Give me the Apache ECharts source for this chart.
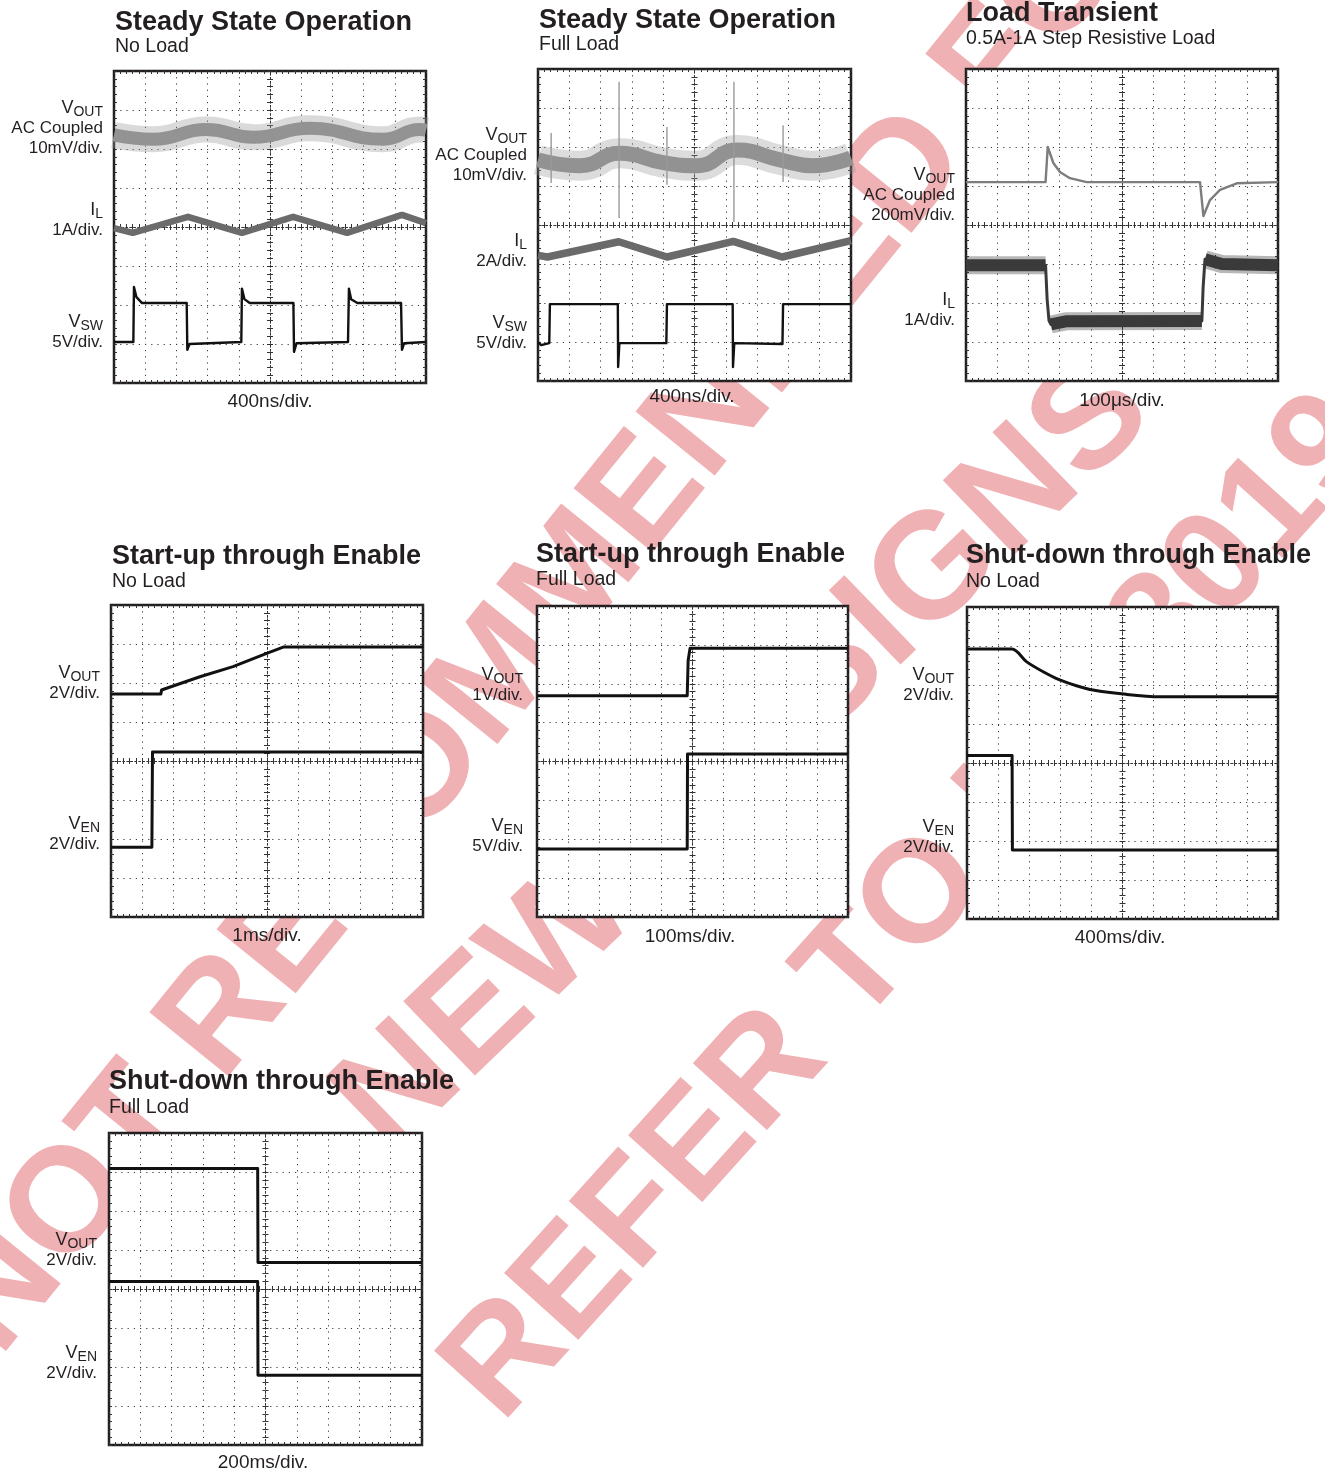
<!DOCTYPE html>
<html>
<head>
<meta charset="utf-8">
<script src="https://cdn.jsdelivr.net/npm/echarts@6.0.0/dist/echarts.min.js"></script>
<style>
html,body{margin:0;padding:0;background:#fff;}
#c{width:1325px;height:1475px;}
</style>
</head>
<body>
<div id="c"></div>
<script>
// ---------------- DATA (x in divisions 0..10, y in divisions 0..8 from bottom) ----------------
const titles = ["Steady State Operation","Steady State Operation","Load Transient","Start-up through Enable","Start-up through Enable","Shut-down through Enable","Shut-down through Enable"];
const subtitles = ["No Load","Full Load","0.5A-1A Step Resistive Load","No Load","Full Load","No Load","Full Load"];
const timebases = ["400ns/div.","400ns/div.","100\u03BCs/div.","1ms/div.","100ms/div.","400ms/div.","200ms/div."];
const chLabels = [
  [["V","OUT","AC Coupled","10mV/div."],["I","L","1A/div."],["V","SW","5V/div."]],
  [["V","OUT","AC Coupled","10mV/div."],["I","L","2A/div."],["V","SW","5V/div."]],
  [["V","OUT","AC Coupled","200mV/div."],["I","L","1A/div."]],
  [["V","OUT","2V/div."],["V","EN","2V/div."]],
  [["V","OUT","1V/div."],["V","EN","5V/div."]],
  [["V","OUT","2V/div."],["V","EN","2V/div."]],
  [["V","OUT","2V/div."],["V","EN","2V/div."]]
];
const watermark = ["NOT RECOMMENDED FOR","NEW DESIGNS","REFER TO ISL8019"];

// Panel 1: steady state, no load
const p1Vout = [[0,6.36],[1.26,6.25],[2.97,6.5],[4.47,6.3],[6.28,6.53],[8.63,6.25],[9.8,6.5],[10,6.48]];
const p1IL = [[0,3.97],[0.6,3.85],[2.37,4.26],[4.1,3.85],[5.74,4.26],[7.47,3.85],[9.23,4.31],[10,4.1]];
const p1Vsw = [[0,1.05],[0.62,1.05],[0.64,2.46],[0.72,2.2],[0.9,2.05],[2.33,2.05],[2.35,0.85],[2.42,1.0],[4.08,1.05],[4.1,2.42],[4.18,2.15],[4.35,2.05],[5.75,2.05],[5.77,0.8],[5.85,1.02],[7.5,1.05],[7.53,2.42],[7.6,2.15],[7.8,2.05],[9.2,2.05],[9.23,0.85],[9.3,1.02],[10,1.05]];
// Panel 2: steady state, full load
const p2Vout = [[0,5.67],[1.34,5.52],[2.62,5.84],[4.0,5.6],[5.08,5.52],[6.36,5.92],[7.73,5.67],[8.79,5.52],[10,5.72]];
const p2Spikes = [[0.42,6.36,5.08],[2.59,7.67,4.18],[4.12,6.51,5.03],[6.26,7.67,4.08],[7.83,6.56,5.1]];
const p2IL = [[0,3.22],[0.3,3.18],[2.58,3.57],[4.12,3.18],[6.24,3.58],[7.8,3.18],[10,3.6]];
const p2Vsw = [[0,1.0],[0.1,0.92],[0.36,0.97],[0.38,1.97],[2.55,1.97],[2.56,0.36],[2.6,0.97],[4.1,0.97],[4.12,1.97],[6.22,1.97],[6.23,0.36],[6.27,0.97],[7.81,0.95],[7.83,1.97],[10,1.97]];
// Panel 3: load transient
const p3Vout = [[0,5.1],[2.55,5.1],[2.62,6.0],[2.8,5.59],[3.01,5.36],[3.33,5.2],[3.87,5.1],[7.5,5.1],[7.61,4.23],[7.82,4.64],[8.14,4.9],[8.68,5.07],[10,5.1]];
const p3IL = [[0,2.97],[2.55,2.97],[2.6,2.1],[2.66,1.55],[2.72,1.45],[3.2,1.53],[7.56,1.54],[7.6,2.4],[7.66,3.12],[8.2,3.0],[10,2.97]];
const p3ILhigh1 = [[0,2.97],[2.55,2.97]];
const p3ILlow = [[2.72,1.45],[3.2,1.53],[7.56,1.54]];
const p3ILhigh2 = [[7.66,3.12],[8.2,3.0],[10,2.97]];
// Panel 4: start-up, no load
const p4Vout = [[0,5.72],[1.6,5.72],[1.62,5.82],[2.85,6.16],[3.91,6.42],[4.99,6.76],[5.52,6.92],[10,6.92]];
const p4Ven = [[0,1.79],[1.31,1.79],[1.33,4.23],[10,4.23]];
// Panel 5: start-up, full load
const p5Vout = [[0,5.69],[4.83,5.69],[4.86,6.6],[4.92,6.91],[10,6.91]];
const p5Ven = [[0,1.75],[4.83,1.75],[4.84,4.19],[10,4.19]];
// Panel 6: shut-down, no load
const p6Vout = [[0,6.92],[1.45,6.92],[1.91,6.6],[2.45,6.34],[2.98,6.13],[3.52,5.98],[4.05,5.87],[5.12,5.76],[6.19,5.7],[10,5.7]];
const p6Ven = [[0,4.19],[1.45,4.19],[1.46,1.77],[10,1.77]];
// Panel 7: shut-down, full load
const p7Vout = [[0,7.09],[4.75,7.09],[4.76,4.68],[10,4.68]];
const p7Ven = [[0,4.19],[4.75,4.19],[4.76,1.79],[10,1.79]];

// ---------------- LAYOUT & STYLE ----------------
const FONT = '"Liberation Sans", Arial, Helvetica, sans-serif';
const INK = '#231f20';
const panels = [
  {grid:{left:114,top:71,width:312,height:312}, tx:115, ty:23, sy:47, lx:103, ly:[108,210,322], bx:270, by:402},
  {grid:{left:538,top:69,width:313,height:312}, tx:539, ty:21, sy:45, lx:527, ly:[135,241,323], bx:692, by:397},
  {grid:{left:966,top:69,width:312,height:312}, tx:966, ty:14, sy:38.5, lx:955, ly:[175,300], bx:1122, by:401},
  {grid:{left:111,top:605,width:312,height:312}, tx:112, ty:556.5, sy:581.5, lx:100, ly:[673,824], bx:267, by:936},
  {grid:{left:537,top:606,width:311,height:311}, tx:536, ty:555, sy:579.5, lx:523, ly:[675,826], bx:690, by:937},
  {grid:{left:967,top:607,width:311,height:312}, tx:966, ty:556, sy:581.5, lx:954, ly:[675,827], bx:1120, by:938},
  {grid:{left:109,top:1133,width:313,height:312}, tx:109, ty:1082, sy:1107.5, lx:97, ly:[1240,1353], bx:263, by:1463}
];
const traces = [
  [ {d:p1Vout, c:'#939393', w:13, halo:'rgba(150,150,150,0.35)', hw:26, smooth:0.5},
    {d:p1IL, c:'#6b6b6b', w:6.5},
    {d:p1Vsw, c:'#111', w:2.4} ],
  [ {d:p2Vout, c:'#929292', w:15, halo:'rgba(150,150,150,0.33)', hw:30, smooth:0.5},
    {d:p2IL, c:'#6a6a6a', w:7.5},
    {d:p2Vsw, c:'#111', w:2.4} ],
  [ {d:p3Vout, c:'#7d7d7d', w:2.4},
    {d:p3IL, c:'#3a3a3a', w:3},
    {d:p3ILhigh1, c:'#3a3a3a', w:12, halo:'rgba(50,50,50,0.35)', hw:18},
    {d:p3ILlow, c:'#3a3a3a', w:12, halo:'rgba(50,50,50,0.35)', hw:18},
    {d:p3ILhigh2, c:'#3a3a3a', w:12, halo:'rgba(50,50,50,0.35)', hw:18} ],
  [ {d:p4Vout, c:'#111', w:3}, {d:p4Ven, c:'#111', w:3} ],
  [ {d:p5Vout, c:'#111', w:3}, {d:p5Ven, c:'#111', w:3} ],
  [ {d:p6Vout, c:'#111', w:3, smooth:0.3}, {d:p6Ven, c:'#111', w:3} ],
  [ {d:p7Vout, c:'#111', w:3}, {d:p7Ven, c:'#111', w:3} ]
];
const wmStyle = [
  {x:-32, y:1333, a:51, s:148},
  {x:361, y:1128, a:44, s:150},
  {x:472, y:1398, a:48, s:145}
];

// ---------------- BUILD ----------------
const grids = [], xAxes = [], yAxes = [], series = [], els = [];
const dotted = {color:'#3a3a3a', width:1, type:[1.2,5]};
const tickLS = {color:'#333', width:1};

panels.forEach((P, gi) => {
  grids.push(Object.assign({show:true, backgroundColor:'#fff', borderColor:INK, borderWidth:2.5}, P.grid));
  const xb = gi*4, yb = gi*4;
  xAxes.push({gridIndex:gi, type:'value', min:0, max:10, interval:1, position:'bottom',
    axisLine:{show:false, onZero:false}, axisLabel:{show:false},
    axisTick:{show:true, inside:true, length:3, lineStyle:tickLS},
    minorTick:{show:true, splitNumber:5, length:3, lineStyle:tickLS},
    splitLine:{show:true, lineStyle:dotted}});
  xAxes.push({gridIndex:gi, type:'value', min:0, max:10, interval:1, position:'top',
    axisLine:{show:false, onZero:false}, axisLabel:{show:false},
    axisTick:{show:true, inside:true, length:3, lineStyle:tickLS},
    minorTick:{show:true, splitNumber:5, length:3, lineStyle:tickLS},
    splitLine:{show:false}});
  [true,false].forEach(ins => xAxes.push({gridIndex:gi, type:'value', min:-5, max:5, interval:1,
    axisLine:{show:true, onZero:true, onZeroAxisIndex:yb+2, lineStyle:{color:'#333', width:1, type:[1.5,2.5]}},
    axisLabel:{show:false},
    axisTick:{show:true, inside:ins, length:3, lineStyle:tickLS},
    minorTick:{show:true, splitNumber:5, length:3, lineStyle:tickLS},
    splitLine:{show:false}}));
  yAxes.push({gridIndex:gi, type:'value', min:0, max:8, interval:1, position:'left',
    axisLine:{show:false, onZero:false}, axisLabel:{show:false},
    axisTick:{show:true, inside:true, length:3, lineStyle:tickLS},
    minorTick:{show:true, splitNumber:5, length:3, lineStyle:tickLS},
    splitLine:{show:true, lineStyle:dotted}});
  yAxes.push({gridIndex:gi, type:'value', min:0, max:8, interval:1, position:'right',
    axisLine:{show:false, onZero:false}, axisLabel:{show:false},
    axisTick:{show:true, inside:true, length:3, lineStyle:tickLS},
    minorTick:{show:true, splitNumber:5, length:3, lineStyle:tickLS},
    splitLine:{show:false}});
  [true,false].forEach(ins => yAxes.push({gridIndex:gi, type:'value', min:-4, max:4, interval:1,
    axisLine:{show:true, onZero:true, onZeroAxisIndex:xb+2, lineStyle:{color:'#333', width:1, type:[1.5,2.5]}},
    axisLabel:{show:false},
    axisTick:{show:true, inside:ins, length:3, lineStyle:tickLS},
    minorTick:{show:true, splitNumber:5, length:3, lineStyle:tickLS},
    splitLine:{show:false}}));

  const addLine = (data, color, width, smooth, z) => series.push({type:'line', xAxisIndex:xb, yAxisIndex:yb,
    data:data, showSymbol:false, symbol:'none', silent:true, smooth:smooth||false, animation:false, z:z,
    lineStyle:{color:color, width:width, cap:'butt', join:'round'}});
  traces[gi].forEach(t => {
    if (t.halo) addLine(t.d, t.halo, t.hw, t.smooth, 3);
    addLine(t.d, t.c, t.w, t.smooth, 4);
  });
  if (gi === 1) {
    p2Spikes.forEach(s => addLine([[s[0],s[1]],[s[0],s[2]]], '#9a9a9a', 1.4, false, 5));
  }

  els.push({type:'text', x:P.tx, y:P.ty, z:100, silent:true,
    style:{text:titles[gi], font:'bold 27px '+FONT, fill:INK, align:'left', verticalAlign:'middle'}});
  els.push({type:'text', x:P.tx, y:P.sy, z:100, silent:true,
    style:{text:subtitles[gi], font:'19.5px '+FONT, fill:INK, align:'left', verticalAlign:'middle'}});
  els.push({type:'text', x:P.bx, y:P.by, z:100, silent:true,
    style:{text:timebases[gi], font:'19px '+FONT, fill:INK, align:'center', verticalAlign:'middle'}});
  chLabels[gi].forEach((blk, bi) => {
    const y0 = P.ly[bi];
    els.push({type:'text', x:P.lx, y:y0, z:100, silent:true,
      style:{text:'{v|'+blk[0]+'}{s|'+blk[1]+'}', align:'right', verticalAlign:'middle',
        rich:{v:{fontSize:18, fontFamily:FONT, fill:INK}, s:{fontSize:14, fontFamily:FONT, fill:INK, padding:[8,0,0,0]}}}});
    blk.slice(2).forEach((line, li) => els.push({type:'text', x:P.lx, y:y0+20.5+li*19.5, z:100, silent:true,
      style:{text:line, font:'17px '+FONT, fill:INK, align:'right', verticalAlign:'middle'}}));
  });
});

watermark.forEach((txt, i) => {
  const w = wmStyle[i];
  els.push({type:'text', x:w.x, y:w.y, rotation:w.a*Math.PI/180, z:-10, silent:true,
    style:{text:txt, font:'bold '+w.s+'px '+FONT, fill:'#F0B1B4', align:'left', verticalAlign:'middle'}});
});

const chart = echarts.init(document.getElementById('c'), null, {renderer:'canvas'});
chart.setOption({
  backgroundColor:'#fff',
  animation:false,
  grid:grids, xAxis:xAxes, yAxis:yAxes, series:series,
  graphic:{elements:els}
});
</script>
</body>
</html>
